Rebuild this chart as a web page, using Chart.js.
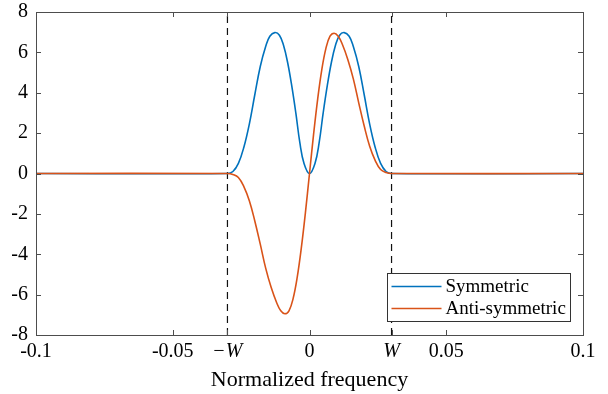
<!DOCTYPE html>
<html>
<head>
<meta charset="utf-8">
<script src="https://cdn.jsdelivr.net/npm/chart.js@4.4.1/dist/chart.umd.min.js"></script>
<style>
  html, body { margin: 0; padding: 0; background: #fff; }
  #wrap { width: 608px; height: 394px; }
</style>
</head>
<body>
<div id="wrap"><canvas id="bandChart" width="608" height="394"></canvas></div>
<script>
// values
const freqSym = [-0.1, -0.03, -0.028, -0.026, -0.024, -0.022, -0.02, -0.018, -0.016, -0.0145, -0.0127, -0.011, -0.0095, -0.008, -0.0065, -0.005, -0.0035, -0.002, 0,
  0.002, 0.0035, 0.005, 0.0065, 0.008, 0.0095, 0.011, 0.0127, 0.0145, 0.016, 0.018, 0.02, 0.022, 0.024, 0.026, 0.028, 0.03, 0.1];
const symValues = [0, 0, 0.1, 0.5, 1.3, 2.45, 3.9, 5.3, 6.3, 6.8, 6.98, 6.85, 6.35, 5.5, 4.35, 3.0, 1.5, 0.5, 0,
  0.5, 1.5, 3.0, 4.35, 5.5, 6.35, 6.85, 6.98, 6.8, 6.3, 5.3, 3.9, 2.45, 1.3, 0.5, 0.1, 0, 0];

const freqAnti = [-0.1, -0.03, -0.028, -0.026, -0.024, -0.022, -0.02, -0.018, -0.016, -0.014, -0.012, -0.0105, -0.009, -0.0075, -0.006, -0.0045, -0.003, -0.0015, 0,
  0.0015, 0.003, 0.0045, 0.006, 0.0075, 0.009, 0.0105, 0.012, 0.014, 0.016, 0.018, 0.02, 0.022, 0.024, 0.026, 0.028, 0.03, 0.1];
const antiValues = [0, 0, -0.05, -0.2, -0.65, -1.35, -2.35, -3.5, -4.7, -5.65, -6.4, -6.8, -6.95, -6.8, -6.2, -5.15, -3.7, -1.95, 0,
  1.95, 3.7, 5.15, 6.2, 6.8, 6.95, 6.8, 6.4, 5.65, 4.7, 3.5, 2.35, 1.35, 0.65, 0.2, 0.05, 0, 0];

const bandEdges = [-0.03, 0.03];
const xTickValues = [-0.1, -0.05, -0.03, 0, 0.03, 0.05, 0.1];
const xTickLabels = ["-0.1", "-0.05", "\u2212W", "0", "W", "0.05", "0.1"];
const yTickValues = [-8, -6, -4, -2, 0, 2, 4, 6, 8];
const seriesNames = ["Symmetric", "Anti-symmetric"];

const BLUE = "#0072BD";
const ORANGE = "#D95319";
const AXIS = "#4d4d4d";
const FONT = "'Liberation Serif', 'Times New Roman', serif";

const toPoints = (xs, ys) => xs.map((x, i) => ({ x, y: ys[i] }));

// box, inward ticks and the legend, MATLAB style
const framePlugin = {
  id: "frame",
  afterDraw(chart) {
    const { ctx, chartArea: a, scales } = chart;
    ctx.save();
    ctx.strokeStyle = AXIS;
    ctx.lineWidth = 1;
    ctx.strokeRect(Math.round(a.left) + 0.5, Math.round(a.top) + 0.5, Math.round(a.right - a.left), Math.round(a.bottom - a.top));
    const tl = 5;
    ctx.beginPath();
    xTickValues.forEach(v => {
      const px = Math.round(scales.x.getPixelForValue(v)) + 0.5;
      ctx.moveTo(px, a.bottom); ctx.lineTo(px, a.bottom - tl);
      ctx.moveTo(px, a.top); ctx.lineTo(px, a.top + tl);
    });
    yTickValues.forEach(v => {
      const py = Math.round(scales.y.getPixelForValue(v)) + 0.5;
      ctx.moveTo(a.left, py); ctx.lineTo(a.left + tl, py);
      ctx.moveTo(a.right, py); ctx.lineTo(a.right - tl, py);
    });
    ctx.stroke();

    // legend box in the lower right corner
    const bw = 183, bh = 48;
    const bx = Math.round(a.right - 13 - bw) + 0.5;
    const by = Math.round(a.bottom - 14 - bh) + 0.5;
    ctx.fillStyle = "#fff";
    ctx.fillRect(bx, by, bw, bh);
    ctx.strokeStyle = "#333";
    ctx.strokeRect(bx, by, bw, bh);
    const colors = [BLUE, ORANGE];
    ctx.font = "19px " + FONT;
    ctx.textBaseline = "middle";
    seriesNames.forEach((name, i) => {
      const ry = by + 13 + i * 22;
      ctx.strokeStyle = colors[i];
      ctx.lineWidth = 1.6;
      ctx.beginPath();
      ctx.moveTo(bx + 4, ry); ctx.lineTo(bx + 54, ry);
      ctx.stroke();
      ctx.fillStyle = "#000";
      ctx.fillText(name, bx + 58, ry + 1);
    });
    ctx.restore();
  }
};

const datasets = [
  {
    label: seriesNames[0],
    data: toPoints(freqSym, symValues),
    borderColor: BLUE,
    borderWidth: 1.6,
    pointRadius: 0,
    tension: 0.4,
    order: 2
  },
  {
    label: seriesNames[1],
    data: toPoints(freqAnti, antiValues),
    borderColor: ORANGE,
    borderWidth: 1.6,
    pointRadius: 0,
    tension: 0.4,
    order: 1
  }
];
bandEdges.forEach(w => {
  datasets.push({
    label: "edge",
    data: [{ x: w, y: -8 }, { x: w, y: 8 }],
    borderColor: "#111",
    borderWidth: 1.2,
    borderDash: [7, 5],
    pointRadius: 0,
    order: 3
  });
});

new Chart(document.getElementById("bandChart"), {
  type: "line",
  data: { datasets },
  options: {
    responsive: false,
    animation: false,
    layout: { padding: { top: 12, right: 25, left: 0, bottom: 0 } },
    plugins: { legend: { display: false }, tooltip: { enabled: false } },
    scales: {
      x: {
        type: "linear",
        min: -0.1,
        max: 0.1,
        afterBuildTicks: scale => { scale.ticks = xTickValues.map(v => ({ value: v })); },
        afterFit: scale => { scale.height = 59; scale.paddingLeft = 0; scale.paddingRight = 0; },
        grid: { display: false, drawTicks: false },
        border: { display: false },
        ticks: {
          padding: 5,
          maxRotation: 0,
          autoSkip: false,
          color: "#000",
          font: ctx => ({
            family: FONT,
            size: 20,
            style: (ctx.tick && Math.abs(ctx.tick.value) === 0.03) ? "italic" : "normal"
          }),
          callback: value => {
            const i = xTickValues.findIndex(v => Math.abs(v - value) < 1e-9);
            return i >= 0 ? xTickLabels[i] : "";
          }
        },
        title: {
          display: true,
          text: "Normalized frequency",
          color: "#000",
          font: { family: FONT, size: 22 },
          padding: { top: 0, bottom: 1 }
        }
      },
      y: {
        min: -8,
        max: 8,
        afterBuildTicks: scale => { scale.ticks = yTickValues.map(v => ({ value: v })); },
        afterFit: scale => { scale.width = 36; scale.paddingTop = 0; scale.paddingBottom = 0; },
        grid: { display: false, drawTicks: false },
        border: { display: false },
        ticks: {
          padding: 8,
          color: "#000",
          font: { family: FONT, size: 20 },
          callback: value => String(value)
        }
      }
    }
  },
  plugins: [framePlugin]
});
</script>
</body>
</html>
